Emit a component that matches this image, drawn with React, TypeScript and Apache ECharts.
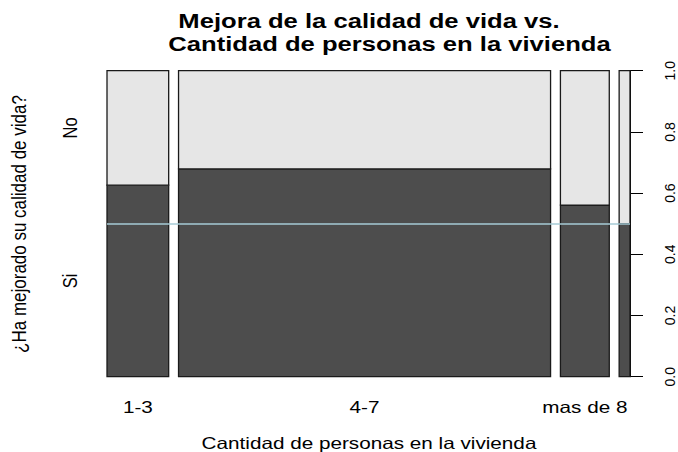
import React, { useEffect, useRef } from "react";
import * as echarts from "echarts";

const categories = ["1-3", "4-7", "mas de 8", ""]; // 4th group: label not printed in the original
const widthShare = [0.125, 0.754, 0.099, 0.022]; // share of observations per group (bar widths)
const siShare = [0.626, 0.679, 0.561, 0.5]; // proportion answering "Si" in each group
const responseLevels = ["Si", "No"];
const yTickInterval = 0.2;
const barGap = 0.02; // spineplot offset between bars
const refLineValue = 0.5;

const titleLines = [
  "Mejora de la calidad de vida vs.",
  "Cantidad de personas en la vivienda",
];
const xTitle = "Cantidad de personas en la vivienda";
const yTitle = "¿Ha mejorado su calidad de vida?";

const FONT = "'Liberation Sans', Arial, sans-serif";
const SX = 1.27; // the reference is stretched horizontally

export default function App() {
  const ref = useRef<HTMLDivElement>(null);

  useEffect(() => {
    if (!ref.current) return;
    const chart = echarts.init(ref.current, null, { renderer: "svg" });

    let acc = 0;
    const data = widthShare.map((w, i) => {
      const start = acc;
      acc += w + barGap;
      return [i, start, w, siShare[i]];
    });
    const xMax = acc - barGap;

    const renderItem = (params: any, api: any) => {
      const idx = params.dataIndex;
      const start = api.value(1);
      const w = api.value(2);
      const p = api.value(3);
      const b0 = api.coord([start, 0]);
      const bMid = api.coord([start + w, p]);
      const bTop = api.coord([start + w, 1]);
      const x0 = b0[0];
      const wPx = bMid[0] - b0[0];
      const children: any[] = [
        {
          type: "rect",
          shape: { x: x0, y: bMid[1], width: wPx, height: b0[1] - bMid[1] },
          style: { fill: "#4d4d4d", stroke: "#1a1a1a", lineWidth: 1.3 },
        },
        {
          type: "rect",
          shape: { x: x0, y: bTop[1], width: wPx, height: bMid[1] - bTop[1] },
          style: { fill: "#e6e6e6", stroke: "#1a1a1a", lineWidth: 1.3 },
        },
      ];
      if (categories[idx]) {
        children.push({
          type: "text",
          x: x0 + wPx / 2,
          y: b0[1] + 31,
          scaleX: SX,
          style: {
            text: categories[idx],
            fill: "#000",
            fontSize: 16.3,
            fontFamily: FONT,
            align: "center",
            verticalAlign: "middle",
            textAlign: "center",
            textVerticalAlign: "middle",
          },
        });
      }
      if (idx === 0) {
        const mids = [(b0[1] + bMid[1]) / 2, (bMid[1] + bTop[1]) / 2];
        responseLevels.forEach((lvl, k) => {
          children.push({
            type: "text",
            x: x0 - 37,
            y: mids[k],
            rotation: Math.PI / 2,
            scaleY: 1.2,
            style: {
              text: lvl,
              fill: "#000",
              fontSize: 16.5,
              fontFamily: FONT,
              align: "center",
              verticalAlign: "middle",
              textAlign: "center",
              textVerticalAlign: "middle",
            },
          });
        });
      }
      return { type: "group", children };
    };

    const textStyle = (text: string, size: number, weight: string) => ({
      text,
      fill: "#000",
      fontSize: size,
      fontWeight: weight,
      fontFamily: FONT,
      align: "center",
      verticalAlign: "middle",
      textAlign: "center",
      textVerticalAlign: "middle",
    });

    chart.setOption({
      animation: false,
      backgroundColor: "#ffffff",
      grid: { left: 107, right: 48, top: 70.7, bottom: 75.3 },
      xAxis: { type: "value", min: 0, max: xMax, show: false },
      yAxis: {
        type: "value",
        position: "right",
        min: 0,
        max: 1,
        interval: yTickInterval,
        splitLine: { show: false },
        axisLine: { show: true, onZero: false, lineStyle: { color: "#000", width: 1 } },
        axisTick: { show: true, length: 13, lineStyle: { color: "#000", width: 1 } },
        axisLabel: {
          rotate: 90,
          margin: 33,
          color: "#000",
          fontSize: 14,
          fontFamily: FONT,
          formatter: (v: number) => v.toFixed(1),
        },
      },
      graphic: [
        { type: "text", x: 369, y: 21, scaleX: 1.28, style: textStyle(titleLines[0], 20, "bold") },
        { type: "text", x: 389.5, y: 44.5, scaleX: 1.28, style: textStyle(titleLines[1], 20, "bold") },
        { type: "text", x: 369, y: 443, scaleX: SX, style: textStyle(xTitle, 16.3, "normal") },
        {
          type: "text",
          x: 19,
          y: 224,
          rotation: Math.PI / 2,
          scaleY: 1.2,
          style: textStyle(yTitle, 17, "normal"),
        },
      ],
      series: [
        {
          type: "custom",
          renderItem,
          data,
          silent: true,
          encode: { x: [1, 2], y: 3 },
          markLine: {
            silent: true,
            symbol: "none",
            label: { show: false },
            lineStyle: { color: "#a6cbd6", width: 1.5, type: "solid" },
            data: [{ yAxis: refLineValue }],
          },
        },
      ],
    });

    return () => chart.dispose();
  }, []);

  return (
    <div
      ref={ref}
      style={{ position: "absolute", left: 0, top: 0, width: 678, height: 452 }}
    />
  );
}
